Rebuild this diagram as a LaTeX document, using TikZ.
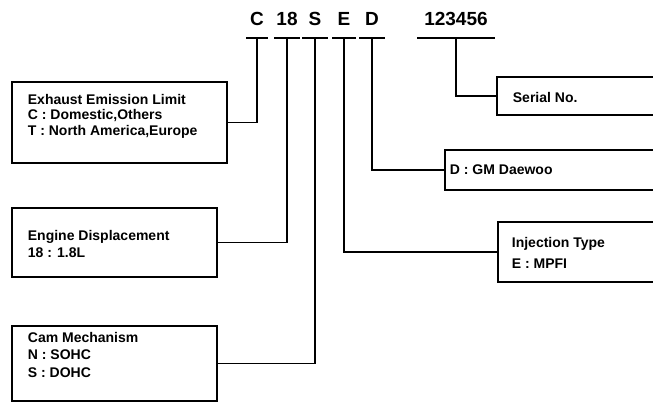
\documentclass[tikz,border=0pt]{standalone}
\usepackage{fontspec}
\setmainfont{Liberation Sans}
\begin{document}
\begin{tikzpicture}[x=1pt,y=-1pt,line width=1.8pt,
    codice/.style={anchor=base,font=\fontsize{19}{19}\selectfont\bfseries,inner xsep=0pt,inner ysep=13pt,text depth=0pt,outer sep=0pt},
    scatola/.style={draw,rectangle,inner sep=0pt,outer sep=0pt},
    testo/.style={anchor=north west,align=left,inner sep=0pt,font=\fontsize{14}{17.5}\selectfont\bfseries}]
    \useasboundingbox (0,0) rectangle (653,402);
    \clip (0,0) rectangle (653,402);
    %codice motore
    \node[codice,minimum width=24pt] (cC) at (257,25) {C};
    \node[codice,minimum width=28pt] (c18) at (287,25) {18};
    \node[codice,minimum width=28pt] (cS) at (315,25) {S};
    \node[codice,minimum width=26pt] (cE) at (344,25) {E};
    \node[codice,minimum width=28pt] (cD) at (372,25) {D};
    \node[codice,minimum width=80pt] (cN) at (456,25) {123456};
    \foreach \c in {cC,c18,cS,cE,cD,cN}
        \draw ([xshift=1pt]\c.south west) -- ([xshift=-1pt]\c.south east);
    %scatole a sinistra
    \node[scatola,minimum width=215pt,minimum height=81pt] (exh) at (119.5,122.5) {};
    \node[testo,font=\fontsize{14}{15.5}\selectfont\bfseries] (exht) at (27,93) {Exhaust Emission Limit\\C : Domestic,Others\\T : North America,Europe};
    \node[scatola,minimum width=205pt,minimum height=69pt] (disp) at (114.5,242.5) {};
    \node[testo] (dispt) at (27,229) {Engine Displacement\\18 : 1.8L};
    \node[scatola,minimum width=205pt,minimum height=75pt] (cam) at (114.5,363.5) {};
    \node[testo] (camt) at (27,331) {Cam Mechanism\\N : SOHC\\S : DOHC};
    %scatole a destra
    \node[scatola,minimum width=175pt,minimum height=38pt] (ser) at (584.5,96) {};
    \node[testo] (sert) at (512,91) {Serial No.};
    \node[scatola,minimum width=228pt,minimum height=40pt] (maker) at (559,170) {};
    \node[testo] (makert) at (449,164) {D : GM Daewoo};
    \node[scatola,minimum width=175pt,minimum height=60pt] (inj) at (585.5,252) {};
    \node[testo,font=\fontsize{14}{21}\selectfont\bfseries] (injt) at (511,236) {Injection Type\\E : MPFI};
    %collegamenti
    \draw (cC.south) |- (exh.east);
    \draw (c18.south) |- (disp.east);
    \draw (cS.south) |- (cam.east);
    \draw (cE.south) |- (inj.west);
    \draw (cD.south) |- (maker.west);
    \draw (cN.south) |- (ser.west);
\end{tikzpicture}
\end{document}
